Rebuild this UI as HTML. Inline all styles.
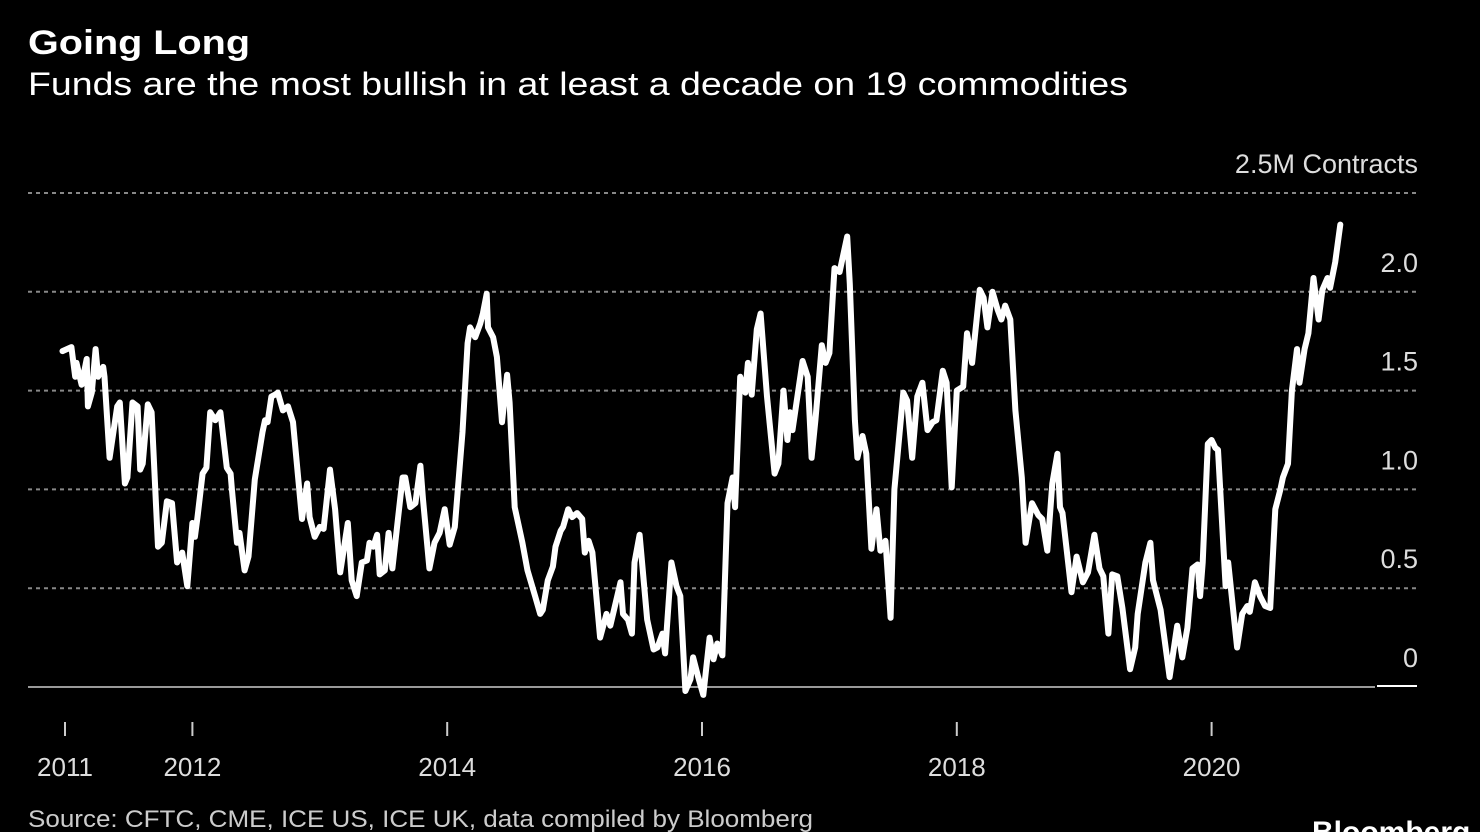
<!DOCTYPE html>
<html><head><meta charset="utf-8"><style>
html,body{margin:0;padding:0;background:#000;}
svg{display:block;font-family:"Liberation Sans",sans-serif;}
</style></head><body>
<svg id="chart" width="1480" height="832" viewBox="0 0 1480 832">
<rect width="1480" height="832" fill="#000"/>
<text x="28" y="54" fill="#fff" font-size="34" font-weight="bold" textLength="222" lengthAdjust="spacingAndGlyphs">Going Long</text>
<text x="28" y="95" fill="#fff" font-size="32" textLength="1100" lengthAdjust="spacingAndGlyphs">Funds are the most bullish in at least a decade on 19 commodities</text>
<text x="1418" y="173" fill="#ddd" font-size="27" text-anchor="end">2.5M Contracts</text>
<g id="grid"></g>
<g id="xaxis"></g>
<g id="series"></g>
<text x="28" y="827" fill="#ccc" font-size="24" textLength="785" lengthAdjust="spacingAndGlyphs">Source: CFTC, CME, ICE US, ICE UK, data compiled by Bloomberg</text>
<text x="1312" y="842" fill="#fff" font-size="30" font-weight="bold">Bloomberg</text>
</svg>
<script>
const yTicks = [0, 0.5, 1.0, 1.5, 2.0, 2.5];
const yTickLabels = ["0", "0.5", "1.0", "1.5", "2.0", ""];
const xTicks = [2011, 2012, 2014, 2016, 2018, 2020];
const xTickLabels = ["2011", "2012", "2014", "2016", "2018", "2020"];
const dates = [2010.98,2011.05,2011.08,2011.09,2011.13,2011.17,2011.18,2011.21,2011.24,2011.26,2011.30,2011.31,2011.35,2011.41,2011.43,2011.47,2011.49,2011.53,2011.57,2011.59,2011.61,2011.65,2011.68,2011.73,2011.76,2011.80,2011.84,2011.88,2011.92,2011.96,2012.00,2012.02,2012.04,2012.08,2012.11,2012.14,2012.18,2012.22,2012.27,2012.30,2012.31,2012.35,2012.37,2012.41,2012.44,2012.49,2012.55,2012.57,2012.59,2012.62,2012.65,2012.67,2012.71,2012.75,2012.79,2012.86,2012.90,2012.92,2012.96,2013.00,2013.03,2013.08,2013.12,2013.16,2013.22,2013.25,2013.29,2013.33,2013.37,2013.39,2013.42,2013.45,2013.47,2013.51,2013.54,2013.57,2013.65,2013.67,2013.71,2013.75,2013.79,2013.81,2013.86,2013.90,2013.94,2013.98,2014.02,2014.06,2014.12,2014.16,2014.18,2014.22,2014.26,2014.28,2014.31,2014.32,2014.36,2014.39,2014.43,2014.47,2014.49,2014.53,2014.59,2014.63,2014.69,2014.73,2014.75,2014.79,2014.83,2014.85,2014.89,2014.91,2014.95,2014.98,2015.02,2015.06,2015.08,2015.11,2015.14,2015.20,2015.25,2015.28,2015.36,2015.38,2015.42,2015.45,2015.47,2015.51,2015.57,2015.62,2015.65,2015.69,2015.71,2015.76,2015.80,2015.83,2015.87,2015.91,2015.93,2015.97,2016.01,2016.06,2016.09,2016.12,2016.16,2016.20,2016.24,2016.26,2016.30,2016.34,2016.36,2016.39,2016.43,2016.46,2016.51,2016.57,2016.60,2016.64,2016.67,2016.69,2016.71,2016.79,2016.83,2016.86,2016.89,2016.94,2016.97,2017.00,2017.04,2017.08,2017.14,2017.16,2017.20,2017.22,2017.26,2017.29,2017.33,2017.37,2017.40,2017.44,2017.48,2017.51,2017.58,2017.61,2017.65,2017.69,2017.73,2017.77,2017.81,2017.84,2017.89,2017.92,2017.96,2018.00,2018.05,2018.08,2018.12,2018.18,2018.21,2018.24,2018.28,2018.32,2018.35,2018.38,2018.42,2018.46,2018.51,2018.54,2018.56,2018.59,2018.64,2018.67,2018.71,2018.75,2018.79,2018.81,2018.83,2018.90,2018.94,2018.99,2019.03,2019.08,2019.12,2019.15,2019.19,2019.22,2019.26,2019.30,2019.36,2019.40,2019.42,2019.48,2019.52,2019.54,2019.60,2019.67,2019.73,2019.77,2019.81,2019.85,2019.89,2019.91,2019.93,2019.97,2020.00,2020.03,2020.05,2020.11,2020.13,2020.20,2020.24,2020.28,2020.30,2020.34,2020.38,2020.42,2020.46,2020.50,2020.54,2020.56,2020.60,2020.63,2020.67,2020.69,2020.73,2020.76,2020.80,2020.84,2020.87,2020.91,2020.93,2020.97,2021.01];
const values = [1.70,1.72,1.57,1.64,1.53,1.66,1.42,1.49,1.71,1.57,1.62,1.57,1.16,1.42,1.44,1.03,1.06,1.44,1.42,1.10,1.13,1.43,1.39,0.71,0.73,0.94,0.93,0.63,0.68,0.51,0.83,0.76,0.86,1.08,1.11,1.39,1.35,1.39,1.11,1.08,1.00,0.73,0.78,0.59,0.66,1.05,1.29,1.35,1.34,1.47,1.48,1.49,1.40,1.42,1.34,0.85,1.03,0.86,0.76,0.81,0.80,1.10,0.90,0.58,0.83,0.54,0.46,0.63,0.64,0.73,0.71,0.77,0.57,0.59,0.78,0.60,1.06,1.06,0.91,0.93,1.12,0.95,0.60,0.73,0.78,0.90,0.72,0.81,1.29,1.74,1.82,1.77,1.84,1.89,1.99,1.82,1.77,1.67,1.34,1.58,1.44,0.91,0.73,0.59,0.46,0.37,0.39,0.54,0.61,0.71,0.79,0.81,0.90,0.86,0.88,0.85,0.68,0.74,0.68,0.25,0.37,0.31,0.53,0.37,0.34,0.27,0.63,0.77,0.34,0.19,0.20,0.27,0.17,0.63,0.51,0.46,-0.02,0.04,0.15,0.05,-0.04,0.25,0.14,0.22,0.16,0.93,1.06,0.91,1.57,1.49,1.64,1.48,1.81,1.89,1.47,1.08,1.13,1.50,1.25,1.39,1.30,1.65,1.57,1.16,1.35,1.73,1.64,1.69,2.12,2.10,2.28,2.04,1.35,1.16,1.27,1.18,0.70,0.90,0.69,0.74,0.35,1.00,1.49,1.45,1.16,1.47,1.54,1.30,1.34,1.35,1.60,1.54,1.01,1.50,1.52,1.79,1.64,2.01,1.97,1.82,2.00,1.91,1.86,1.93,1.86,1.40,1.06,0.73,0.81,0.93,0.87,0.85,0.69,1.03,1.18,0.91,0.88,0.48,0.66,0.53,0.58,0.77,0.60,0.56,0.27,0.57,0.56,0.40,0.09,0.20,0.37,0.63,0.73,0.54,0.39,0.05,0.31,0.15,0.30,0.60,0.62,0.46,0.63,1.23,1.25,1.21,1.20,0.51,0.63,0.20,0.37,0.41,0.38,0.53,0.46,0.41,0.40,0.90,1.00,1.06,1.13,1.50,1.71,1.54,1.71,1.79,2.07,1.86,2.01,2.07,2.02,2.15,2.34];

const NS = "http://www.w3.org/2000/svg";
const xScale = d => 65 + (d - 2011) * 127.4;
const yScale = v => 687 - v * 197.6;

const grid = document.getElementById('grid');
yTicks.forEach((t, i) => {
  const y = yScale(t);
  const ln = document.createElementNS(NS, 'line');
  
  
  ln.setAttribute('x1', 28); ln.setAttribute('x2', t === 0 ? 1375 : 1418);
  ln.setAttribute('y1', y); ln.setAttribute('y2', y);
  ln.setAttribute('stroke', t === 0 ? '#999' : '#888');
  ln.setAttribute('stroke-width', 2);
  if (t !== 0) ln.setAttribute('stroke-dasharray', '4 4');
  grid.appendChild(ln);
  if (yTickLabels[i]) {
    const tx = document.createElementNS(NS, 'text');
    
    
    tx.setAttribute('x', 1418); tx.setAttribute('y', y - 20);
    tx.setAttribute('fill', '#ddd'); tx.setAttribute('font-size', '27');
    tx.setAttribute('text-anchor', 'end');
    tx.textContent = yTickLabels[i];
    grid.appendChild(tx);
  }
});
const zl = document.createElementNS(NS, 'line');


zl.setAttribute('x1', 1377); zl.setAttribute('x2', 1417);
zl.setAttribute('y1', yScale(0) - 1); zl.setAttribute('y2', yScale(0) - 1);
zl.setAttribute('stroke', '#fff'); zl.setAttribute('stroke-width', 2);
grid.appendChild(zl);

const xaxis = document.getElementById('xaxis');
xTicks.forEach((t, i) => {
  const x = xScale(t);
  const tk = document.createElementNS(NS, 'line');
  
  
  tk.setAttribute('x1', x); tk.setAttribute('x2', x);
  tk.setAttribute('y1', 722); tk.setAttribute('y2', 736);
  tk.setAttribute('stroke', '#ccc'); tk.setAttribute('stroke-width', 2);
  xaxis.appendChild(tk);
  const tx = document.createElementNS(NS, 'text');
  
  
  tx.setAttribute('x', x); tx.setAttribute('y', 776);
  tx.setAttribute('fill', '#ddd'); tx.setAttribute('font-size', '26');
  tx.setAttribute('text-anchor', 'middle');
  tx.textContent = xTickLabels[i];
  xaxis.appendChild(tx);
});

const series = document.getElementById('series');
const path = document.createElementNS(NS, 'path');


path.setAttribute('d', dates.map((d, i) => (i ? 'L' : 'M') + xScale(d).toFixed(1) + ' ' + yScale(values[i]).toFixed(1)).join(' '));
path.setAttribute('fill', 'none');
path.setAttribute('stroke', '#fff');
path.setAttribute('stroke-width', 6);
path.setAttribute('stroke-linejoin', 'round');
path.setAttribute('stroke-linecap', 'round');
series.appendChild(path);
</script>
</body></html>
